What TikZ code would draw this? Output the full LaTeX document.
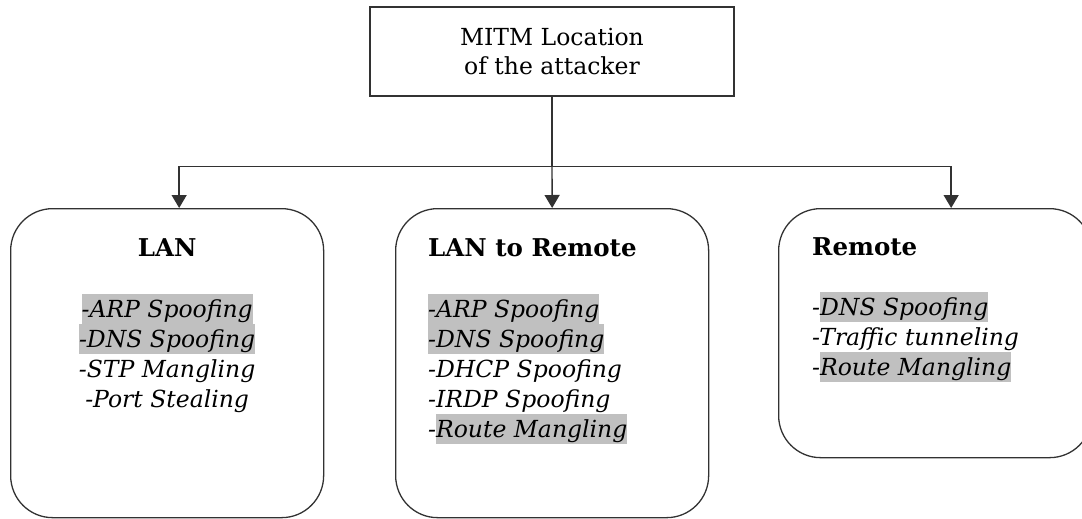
\documentclass[tikz,border=0pt]{standalone}
\usepackage{fontspec}
\setmainfont{DejaVu Serif}
\usetikzlibrary{arrows.meta,positioning,calc}
\definecolor{hlgrey}{RGB}{192,192,192}
\definecolor{linegrey}{RGB}{50,50,50}
\newcommand{\lstrut}{\rule[-7pt]{0pt}{30pt}}
\newcommand{\marked}[1]{{\setlength{\fboxsep}{0pt}\colorbox{hlgrey}{\lstrut#1}}}
\newcommand{\diagfont}{\fontsize{23.5}{30}\selectfont}
\tikzset{topbox/.style={draw=linegrey, line width=1.3pt, minimum width=364pt, minimum height=89pt, align=center, inner sep=0pt, font=\fontsize{23.5}{29}\selectfont}, locbox/.style={draw=linegrey, line width=1.3pt, rounded corners=42pt, minimum width=313pt, inner sep=0pt, anchor=north west}, heading/.style={font=\fontsize{24.5}{30}\selectfont\bfseries, inner sep=0pt}, items/.style={font=\diagfont\itshape, inner sep=0pt}, edge/.style={-{Triangle[length=13pt,width=15pt]}, line width=1.4pt, draw=linegrey}}

\begin{document}
\begin{tikzpicture}[x=1pt, y=1pt, every node/.style={font=\diagfont}]
\clip (0,0) rectangle (1082,-519);
\node[topbox] (mitm) at (552,-51.5) {MITM Location\\of the attacker};
\node[locbox, minimum height=309pt] (lan) at (10,-208) {};
\node[locbox, minimum height=309pt] (l2r) at (395,-208) {};
\node[locbox, minimum height=249pt] (remote) at (778,-208) {};
% headings
\node[heading, anchor=base] (lanhead) at ($(lan.north)+(0,-48)$) {LAN};
\node[heading, anchor=base west] (l2rhead) at ($(l2r.north west)+(33,-48)$) {LAN to Remote};
\node[heading, anchor=base west] (remotehead) at ($(remote.north west)+(34,-47)$) {Remote};
% attack lists
\node[items, align=center, below=86pt of lan.north] (lanlist) {\marked{-ARP Spoofing}\\\marked{-DNS Spoofing}\\\lstrut-STP Mangling\\\lstrut-Port Stealing};
\node[items, align=left, below right=86pt and 33pt of l2r.north west] (l2rlist) {\marked{-ARP Spoofing}\\\marked{-DNS Spoofing}\\\lstrut-DHCP Spoofing\\\lstrut-IRDP Spoofing\\\lstrut-\marked{Route Mangling}};
\node[items, align=left, below right=84pt and 34pt of remote.north west] (remotelist) {\lstrut-\marked{DNS Spoofing}\\\lstrut-Traffic tunneling\\\lstrut-\marked{Route Mangling}};
% connectors
\coordinate (split) at ($(mitm.south)+(0,-70)$);
\draw[line width=1.4pt, linegrey] (mitm.south) -- (split);
\draw[edge] (split) -| ([xshift=12pt]lan.north);
\draw[edge] (split) -- (l2r.north);
\draw[edge] (split) -| ([xshift=16pt]remote.north);
\end{tikzpicture}
\end{document}
